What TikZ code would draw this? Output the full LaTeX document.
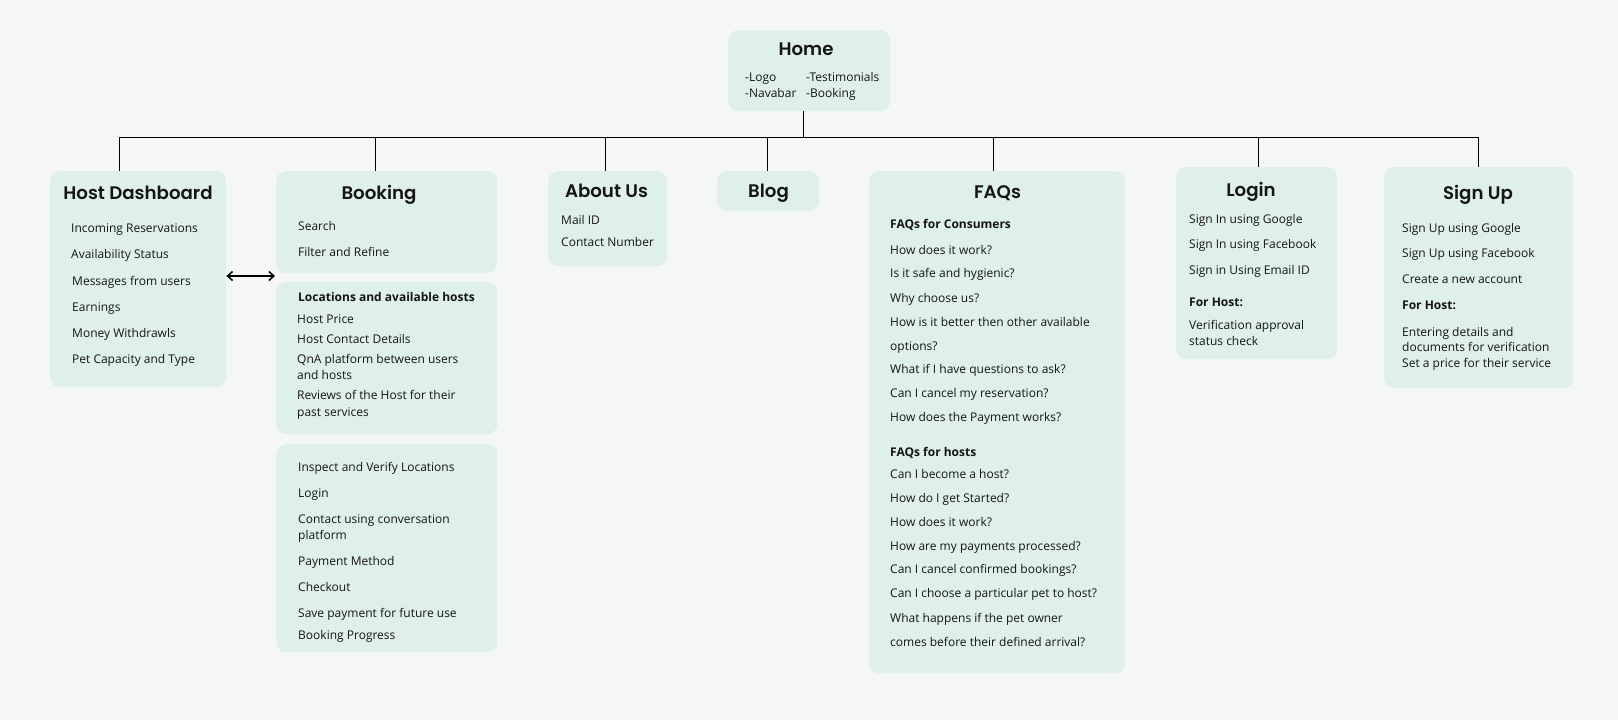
\documentclass[tikz,border=0pt]{standalone}
\usepackage{fontspec}
\setmainfont{Open Sans}
\newfontfamily\titlefont{Poppins}[BoldFont={Poppins SemiBold}]
\usetikzlibrary{arrows.meta}
\definecolor{bgc}{HTML}{F4F6F8}
\definecolor{boxc}{HTML}{DFEFEB}
\definecolor{txtc}{HTML}{151515}
\tikzset{
  box/.style={fill=boxc, rounded corners=10pt, draw=none, inner sep=0pt, anchor=north west},
  ttl/.style={font=\titlefont\bfseries\fontsize{18.2}{21}\selectfont, text=txtc, inner sep=0pt, text height=13pt, text depth=0pt, anchor=center},
  itm/.style={font=\fontsize{12}{14}\selectfont, text=txtc, inner sep=0pt, text height=8.8pt, text depth=0pt, anchor=west},
  bitm/.style={itm, font=\fontsize{12}{14}\selectfont\bfseries},
  hitm/.style={itm, font=\fontsize{12}{14}\selectfont},
  conn/.style={draw=black, line width=1pt},
  dbl/.style={draw=black, line width=1.5pt, {Straight Barb[length=5pt,width=9pt]}-{Straight Barb[length=5pt,width=9pt]}}
}
\begin{document}
\begin{tikzpicture}[x=1pt,y=-1pt]
\fill[bgc] (0,0) rectangle (1618,720);
\useasboundingbox (0,0) rectangle (1618,720);

% Home
\node[box, minimum width=162pt, minimum height=81pt] (home) at (728,30) {};
\node[ttl] (homet) at (806,49) {Home};
\node[hitm] (home1) at (745,77) {-Logo};
\node[hitm] (home2) at (745,93) {-Navabar};
\node[hitm] (home3) at (806,77) {-Testimonials};
\node[hitm] (home4) at (806,93) {-Booking};

% Host Dashboard
\node[box, minimum width=176pt, minimum height=216pt] (hd) at (50,171) {};
\node[ttl] (hdt) at (138,193) {Host Dashboard};
\node[itm] (hd1) at (71,228) {Incoming Reservations};
\node[itm] (hd2) at (71,254) {Availability Status};
\node[itm] (hd3) at (72,281) {Messages from users};
\node[itm] (hd4) at (72,307) {Earnings};
\node[itm] (hd5) at (72,333) {Money Withdrawls};
\node[itm] (hd6) at (72,359) {Pet Capacity and Type};

% Booking
\node[box, minimum width=221pt, minimum height=102pt] (bk1) at (276,171) {};
\node[ttl] (bkt) at (379,193) {Booking};
\node[itm] (bk11) at (298,226) {Search};
\node[itm] (bk12) at (298,252) {Filter and Refine};

\node[box, minimum width=221pt, minimum height=152pt] (bk2) at (276,282) {};
\node[bitm] (bk21) at (298,297) {Locations and available hosts};
\node[itm] (bk22) at (297,319) {Host Price};
\node[itm] (bk23) at (297,339) {Host Contact Details};
\node[itm] (bk24) at (297,359) {QnA platform between users};
\node[itm] (bk25) at (297,375) {and hosts};
\node[itm] (bk26) at (297,395) {Reviews of the Host for their};
\node[itm] (bk27) at (297,412) {past services};

\node[box, minimum width=221pt, minimum height=208pt] (bk3) at (276,444) {};
\node[itm] (bk31) at (298,467) {Inspect and Verify Locations};
\node[itm] (bk32) at (298,493) {Login};
\node[itm] (bk33) at (298,519) {Contact using conversation};
\node[itm] (bk34) at (298,535) {platform};
\node[itm] (bk35) at (298,561) {Payment Method};
\node[itm] (bk36) at (298,587) {Checkout};
\node[itm] (bk37) at (298,613) {Save payment for future use};
\node[itm] (bk38) at (298,635) {Booking Progress};

% About Us
\node[box, minimum width=119pt, minimum height=95pt] (ab) at (548,171) {};
\node[ttl] (abt) at (606.5,191) {About Us};
\node[itm] (ab1) at (561,220) {Mail ID};
\node[itm] (ab2) at (561,242) {Contact Number};

% Blog
\node[box, minimum width=102pt, minimum height=40pt] (bl) at (717,171) {};
\node[ttl] (blt) at (768.5,191) {Blog};

% FAQs
\node[box, minimum width=256pt, minimum height=502pt] (fq) at (869,171) {};
\node[ttl] (fqt) at (997.5,192) {FAQs};
\node[bitm] (fq1) at (890,224) {FAQs for Consumers};
\node[itm] (fq2) at (890,250) {How does it work?};
\node[itm] (fq3) at (890,273) {Is it safe and hygienic?};
\node[itm] (fq4) at (890,298) {Why choose us?};
\node[itm] (fq5) at (890,322) {How is it better then other available};
\node[itm] (fq6) at (890,346) {options?};
\node[itm] (fq7) at (890,369) {What if I have questions to ask?};
\node[itm] (fq8) at (890,393) {Can I cancel my reservation?};
\node[itm] (fq9) at (890,417) {How does the Payment works?};
\node[bitm] (fq10) at (890,452) {FAQs for hosts};
\node[itm] (fq11) at (890,474) {Can I become a host?};
\node[itm] (fq12) at (890,498) {How do I get Started?};
\node[itm] (fq13) at (890,522) {How does it work?};
\node[itm] (fq14) at (890,546) {How are my payments processed?};
\node[itm] (fq15) at (890,569) {Can I cancel confirmed bookings?};
\node[itm] (fq16) at (890,593) {Can I choose a particular pet to host?};
\node[itm] (fq17) at (890,618) {What happens if the pet owner};
\node[itm] (fq18) at (890,642) {comes before their defined arrival?};

% Login
\node[box, minimum width=161pt, minimum height=192pt] (lg) at (1176,167) {};
\node[ttl] (lgt) at (1251,190) {Login};
\node[itm] (lg1) at (1189,219) {Sign In using Google};
\node[itm] (lg2) at (1189,244) {Sign In using Facebook};
\node[itm] (lg3) at (1189,270) {Sign in Using Email ID};
\node[bitm] (lg4) at (1189,302) {For Host:};
\node[itm] (lg5) at (1189,325) {Verification approval};
\node[itm] (lg6) at (1189,341) {status check};

% Sign Up
\node[box, minimum width=189pt, minimum height=221pt] (su) at (1384,167) {};
\node[ttl] (sut) at (1478,193) {Sign Up};
\node[itm] (su1) at (1402,228) {Sign Up using Google};
\node[itm] (su2) at (1402,253) {Sign Up using Facebook};
\node[itm] (su3) at (1402,279) {Create a new account};
\node[bitm] (su4) at (1402,305) {For Host:};
\node[itm] (su5) at (1402,332) {Entering details and};
\node[itm] (su6) at (1402,347) {documents for verification};
\node[itm] (su7) at (1402,363) {Set a price for their service};

% connectors
\coordinate (hj) at (803,137);
\coordinate (bL) at (119,137);
\coordinate (bR) at (1478,137);
\coordinate (dBk) at (375,137);
\coordinate (dAb) at (605,137);
\coordinate (dBl) at (767,137);
\coordinate (dFq) at (993,137);
\coordinate (dLg) at (1258,137);
\draw[conn] (hj |- home.south) -- (hj);
\draw[conn] (bL) -- (bR);
\draw[conn] (bL) -- (bL |- hd.north);
\draw[conn] (dBk) -- (dBk |- bk1.north);
\draw[conn] (dAb) -- (dAb |- ab.north);
\draw[conn] (dBl) -- (dBl |- bl.north);
\draw[conn] (dFq) -- (dFq |- fq.north);
\draw[conn] (dLg) -- (dLg |- lg.north);
\draw[conn] (bR) -- (bR |- su.north);

\coordinate (arE) at (275,276);
\draw[dbl] (hd.east |- arE) -- (arE);
\end{tikzpicture}
\end{document}
